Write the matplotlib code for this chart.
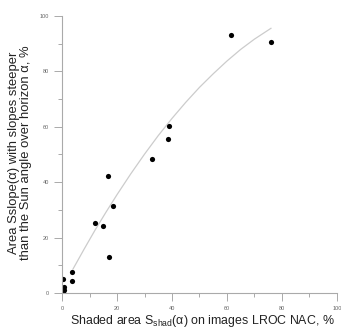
import matplotlib
matplotlib.use("Agg")
import matplotlib.pyplot as plt
from matplotlib.ticker import MultipleLocator

plt.rcParams['font.family'] = ['Liberation Sans', 'DejaVu Sans']

# Scatter data
shaded = [0.3, 0.8, 0.6, 0.4, 3.7, 3.5, 12.0, 15.0, 16.8, 18.4, 17.2, 32.8, 38.9, 38.7, 61.5, 75.9]
slope = [5.2, 2.2, 1.2, 0.4, 7.7, 4.4, 25.2, 24.2, 42.3, 31.5, 13.1, 48.4, 60.3, 55.7, 93.0, 90.5]

# Fitted trend curve
curve_x = [4, 8, 12, 16, 20, 25, 30, 35, 40, 45, 50, 55, 60, 65, 70, 76]
curve_y = [8.7, 15.8, 22.7, 29.2, 35.5, 43.0, 50.1, 56.8, 63.0, 68.8, 74.2, 79.1, 83.7, 87.9, 91.6, 95.5]

xticks = [0, 20, 40, 60, 80, 100]
yticks = [0, 20, 40, 60, 80, 100]

fig = plt.figure(figsize=(3.41, 3.30), dpi=100)
ax = fig.add_axes([0.182, 0.112, 0.806, 0.840])

ax.plot(curve_x, curve_y, color='#cccccc', lw=0.9, zorder=1)
ax.scatter(shaded, slope, s=14, color='black', zorder=2, linewidths=0)

ax.set_xlim(0, 100)
ax.set_ylim(0, 100)
ax.set_xticks(xticks)
ax.set_yticks(yticks)
ax.xaxis.set_minor_locator(MultipleLocator(10))
ax.yaxis.set_minor_locator(MultipleLocator(10))

for s in ['top', 'right']:
    ax.spines[s].set_visible(False)
for s in ['left', 'bottom']:
    ax.spines[s].set_color('#aaaaaa')
    ax.spines[s].set_linewidth(0.8)

ax.tick_params(which='major', length=6, width=0.7, color='#aaaaaa',
               labelsize=4, labelcolor='#666666', direction='out')
ax.tick_params(which='minor', length=3, width=0.7, color='#aaaaaa', direction='out')

ax.set_xlabel('Shaded area S$_{\\mathregular{shad}}$(α) on images LROC NAC, %',
              fontsize=8.9, color='#222222')
ax.xaxis.set_label_coords(0.51, -0.072)
ax.set_ylabel('Area Sslope(α) with slopes steeper\nthan the Sun angle over horizon α, %',
              fontsize=9.4, color='#222222', linespacing=1.0)
ax.yaxis.set_label_coords(-0.108, 0.505)

fig.savefig('out.png', dpi=100)
